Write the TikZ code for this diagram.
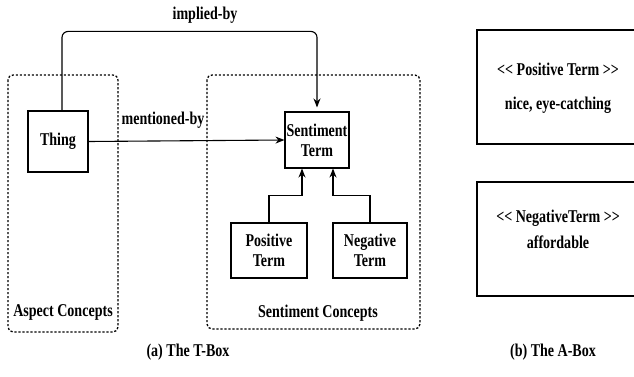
\documentclass[tikz,border=0pt]{standalone}
\usepackage{fontspec}
\setmainfont{Liberation Serif}[FakeStretch=0.78]
\usetikzlibrary{arrows.meta, calc}

\begin{document}
\begin{tikzpicture}[x=1pt, y=-1pt,
      every node/.style={font=\fontsize{18}{20}\selectfont\bfseries},
      termbox/.style={draw, line width=1.1pt, align=center, inner sep=0pt},
      groupbox/.style={draw, line width=1.3pt, dash pattern=on 2.2pt off 1.8pt, rounded corners=5pt},
      link/.style={-{Stealth[length=9pt, width=7pt]}, line width=1.1pt}]
   \clip (0,0) rectangle (634,377);
   % T-Box groups
   \draw[groupbox] (8,75) rectangle (118,332);
   \draw[groupbox] (207,75) rectangle (420,329);
   \node at (63,312) {Aspect Concepts};
   \node at (318,313) {Sentiment Concepts};
   % concepts
   \node[termbox, minimum width=60pt, minimum height=61pt] (thing) at (58,141.5) {Thing};
   \node[termbox, minimum width=64pt, minimum height=56pt] (sterm) at (317,140) {Sentiment\\Term};
   \node[termbox, minimum width=76pt, minimum height=55pt] (pos) at (269,250.5) {Positive\\Term};
   \node[termbox, minimum width=74pt, minimum height=55pt] (neg) at (370,250.5) {Negative\\Term};
   % relations
   \draw[link, rounded corners=6pt] ($(thing.north)+(4,0)$) -- ++(0,-79) -| ($(sterm.north)+(0,-4)$);
   \node at (205,15) {implied-by};
   \draw[link] (thing.east) -- (sterm.west);
   \node at (163,120) {mentioned-by};
   \draw[link] (pos.north) -- ++(0,-27) -| ($(sterm.south)+(-15,0)$);
   \draw[link] (neg.north) -- ++(0,-27) -| ($(sterm.south)+(16,0)$);
   % A-Box
   \node[termbox, minimum width=162pt, minimum height=114pt] (apos) at (558,87) {};
   \node[termbox, minimum width=162pt, minimum height=114pt] (aneg) at (558,239) {};
   \node at (558,69) {<\kern0pt< Positive Term >\kern0pt>};
   \node at (558,105) {nice, eye-catching};
   \node at (558,218) {<\kern0pt< NegativeTerm >\kern0pt>};
   \node at (558,242) {affordable};
   % captions
   \node at (188,352) {(a) The T-Box};
   \node at (553,352) {(b) The A-Box};
\end{tikzpicture}
\end{document}
